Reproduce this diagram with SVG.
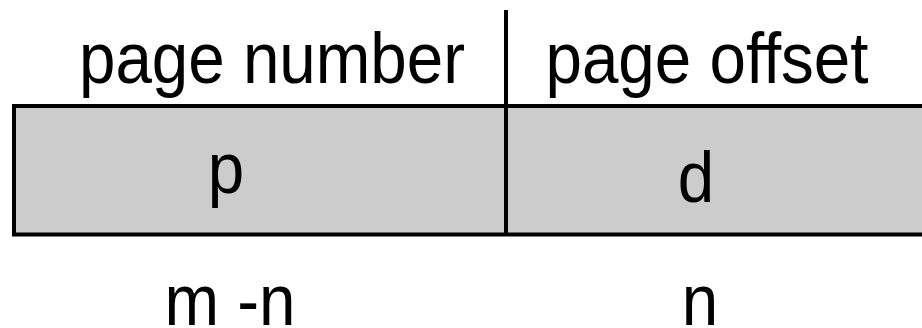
<svg xmlns="http://www.w3.org/2000/svg" width="922" height="328" viewBox="0 0 922 328">
  <style>
    .lbl { font-family: "Liberation Sans", Arial, Helvetica, sans-serif; font-size: 72px; fill: #000; text-anchor: middle; }
    .cell { fill: #cccccc; stroke: none; }
    .edge { fill: none; stroke: #000; stroke-width: 4; }
  </style>
  <rect width="922" height="328" fill="#ffffff"/>

  <!-- address register: two fields p | d -->
  <g id="field-p">
    <rect class="cell" x="14" y="106" width="492" height="128.5"/>
    <text class="lbl" transform="translate(226 193) scale(0.91 1)">p</text>
  </g>
  <g id="field-d">
    <rect class="cell" x="506" y="106" width="420" height="128.5"/>
    <text class="lbl" transform="translate(696 202) scale(0.91 1)">d</text>
  </g>

  <g id="connectors">
    <!-- outer frame, open past the right edge -->
    <path class="edge" d="M930 106 H14 V234.5 H930"/>
    <!-- divider between the two fields, rising above the register -->
    <line class="edge" x1="506" y1="10" x2="506" y2="234.5"/>
  </g>

  <!-- field captions -->
  <g id="caption-page-number">
    <text class="lbl" transform="translate(272 83) scale(0.91 1)">page number</text>
  </g>
  <g id="caption-page-offset">
    <text class="lbl" transform="translate(707 83) scale(0.91 1)">page offset</text>
  </g>

  <!-- field widths -->
  <g id="width-p">
    <text class="lbl" transform="translate(230 325) scale(0.91 1)">m -n</text>
  </g>
  <g id="width-d">
    <text class="lbl" transform="translate(700 325) scale(0.91 1)">n</text>
  </g>
</svg>
